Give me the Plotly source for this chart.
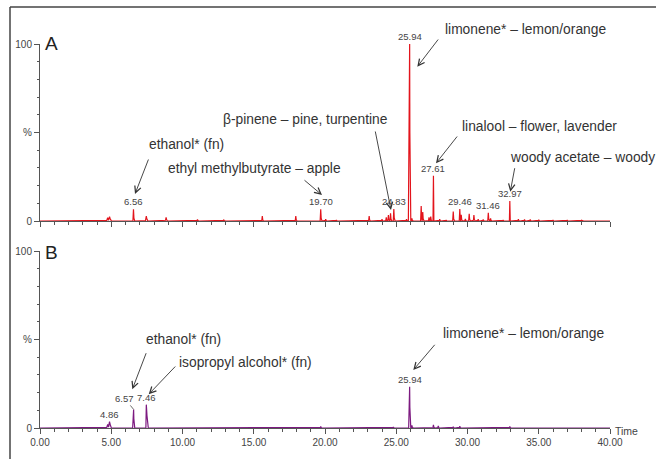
import numpy as np
import plotly.graph_objects as go

# ---------------- data ----------------
# Panel A: retention time (min), relative intensity (%), half-width (min)
a_times = [4.75, 4.88, 6.56, 7.46, 8.85, 11.05, 12.9, 15.6, 17.95, 19.70, 20.05, 20.8,
           23.1, 24.0, 24.3, 24.45, 24.6, 24.83, 25.72, 25.91, 25.94, 26.1, 26.75, 26.86,
           27.3, 27.42, 27.61, 28.05, 28.5, 29.0, 29.46, 29.56, 29.85, 30.12, 30.45, 30.75,
           31.1, 31.46, 31.62, 32.5, 32.97, 33.57, 34.0, 34.4, 35.0, 36.0, 37.0, 38.0, 39.0]
a_heights = [1.8, 2.5, 6.6, 2.8, 2.0, 0.8, 0.6, 2.8, 2.8, 6.6, 1.0, 0.6,
             2.8, 1.0, 2.0, 3.4, 4.3, 6.8, 1.0, 58.0, 100.0, 1.5, 8.5, 5.0,
             2.0, 2.5, 25.6, 1.0, 0.6, 5.3, 6.8, 3.5, 1.2, 4.1, 3.4, 1.0,
             0.8, 4.7, 1.5, 0.6, 11.3, 1.0, 0.8, 0.8, 0.7, 0.6, 0.6, 0.5, 0.4]
a_widths = [0.08, 0.08, 0.04, 0.06, 0.05, 0.05, 0.05, 0.04, 0.04, 0.04, 0.04, 0.04,
            0.04, 0.04, 0.04, 0.04, 0.04, 0.04, 0.04, 0.06, 0.03, 0.04, 0.04, 0.04,
            0.04, 0.04, 0.03, 0.04, 0.04, 0.04, 0.04, 0.04, 0.04, 0.04, 0.04, 0.04,
            0.04, 0.04, 0.04, 0.04, 0.03, 0.04, 0.04, 0.04, 0.04, 0.04, 0.04, 0.04, 0.04]

# Panel B
b_times = [4.75, 4.88, 6.55, 6.57, 7.46, 7.50, 19.7, 24.8, 25.92, 25.94, 26.1,
           27.61, 27.95, 29.0, 29.46, 32.97]
b_heights = [2.0, 3.6, 6.0, 10.5, 13.2, 8.0, 0.8, 0.6, 12.0, 23.3, 1.5,
             1.8, 1.2, 0.7, 1.0, 0.8]
b_widths = [0.08, 0.08, 0.05, 0.03, 0.03, 0.05, 0.04, 0.04, 0.05, 0.03, 0.04,
            0.04, 0.04, 0.04, 0.04, 0.04]

# labelled peaks
a_label_times = [6.56, 19.70, 24.83, 25.94, 27.61, 29.46, 31.46, 32.97]
a_label_heights = [6.6, 6.6, 6.8, 100.0, 25.6, 6.8, 4.7, 11.3]
b_label_times = [4.86, 7.46, 25.94]
b_label_heights = [3.6, 13.2, 23.3]
b_offset_label_time = 6.57
b_offset_label_height = 10.5

y_tickvals = [0, 50, 100]
y_ticktext = ["0", "%", "100"]
x_range = [0, 40]

RED = "#e3141c"
PURPLE = "#7d1a80"
TXT = "#333333"
AX = "#555555"
FONT = "Liberation Sans, Arial, sans-serif"

W, H = 656, 459


def trace_from_peaks(times, heights, widths):
    t = np.round(np.arange(0, 40.0001, 0.005), 3)
    y = np.zeros_like(t)
    for tc, h, w in zip(times, heights, widths):
        prof = h * np.clip(1 - np.abs(t - tc) / w, 0, None)
        y = np.maximum(y, prof)
    return t, y


ta, ya = trace_from_peaks(a_times, a_heights, a_widths)
tb, yb = trace_from_peaks(b_times, b_heights, b_widths)

fig = go.Figure()
fig.add_trace(go.Scatter(x=ta, y=ya, mode="lines", line=dict(color=RED, width=1.2),
                         xaxis="x", yaxis="y", cliponaxis=False, hoverinfo="skip"))
fig.add_trace(go.Scatter(x=tb, y=yb, mode="lines", line=dict(color=PURPLE, width=1.2),
                         xaxis="x2", yaxis="y2", cliponaxis=False, hoverinfo="skip"))


def px(x):
    return x / W


def py(y):
    return 1 - y / H


xdom = [px(40), px(610)]
axis_common = dict(showgrid=False, zeroline=False, showline=True, linecolor=AX, linewidth=1,
                   ticks="outside", tickcolor=AX, tickwidth=1, automargin=False,
                   tickfont=dict(family=FONT, size=10, color="#444"))

fig.update_layout(
    template="none",
    width=W, height=H, margin=dict(l=0, r=0, t=0, b=0, pad=0), autosize=False,
    paper_bgcolor="white", plot_bgcolor="white", showlegend=False,
    font=dict(family=FONT, color=TXT),
    xaxis=dict(domain=xdom, anchor="y", range=x_range, dtick=5, ticklen=5,
               showticklabels=False,
               minor=dict(dtick=1, ticklen=2.5, ticks="outside", tickcolor=AX), **axis_common),
    yaxis=dict(domain=[py(221), py(44)], anchor="x", range=[0, 100], tickvals=y_tickvals,
               ticktext=y_ticktext, ticklen=5,
               minor=dict(dtick=10, ticklen=2.5, ticks="outside", tickcolor=AX), **axis_common),
    xaxis2=dict(domain=xdom, anchor="y2", range=x_range, dtick=5, ticklen=5, tickformat=".2f",
                minor=dict(dtick=1, ticklen=2.5, ticks="outside", tickcolor=AX), **axis_common),
    yaxis2=dict(domain=[py(428), py(251)], anchor="x2", range=[0, 100], tickvals=y_tickvals,
                ticktext=y_ticktext, ticklen=5,
                minor=dict(dtick=10, ticklen=2.5, ticks="outside", tickcolor=AX), **axis_common),
)

# frame
fig.add_shape(type="line", xref="paper", yref="paper", x0=px(10), x1=px(10), y0=py(7), y1=0,
              line=dict(color="#444", width=1.5))
fig.add_shape(type="line", xref="paper", yref="paper", x0=px(10), x1=1, y0=py(7), y1=py(7),
              line=dict(color="#444", width=1.5))

ann = []
# panel letters
ann.append(dict(text="A", x=px(43), y=py(44), xref="paper", yref="paper", xanchor="left",
                yanchor="middle", showarrow=False, font=dict(size=19, color="#222", family=FONT)))
ann.append(dict(text="B", x=px(43), y=py(253), xref="paper", yref="paper", xanchor="left",
                yanchor="middle", showarrow=False, font=dict(size=19, color="#222", family=FONT)))
ann.append(dict(text="Time", x=px(613), y=py(431), xref="paper", yref="paper", xanchor="left",
                yanchor="middle", showarrow=False, font=dict(size=10.5, color="#444", family=FONT)))

# peak labels
for t, h in zip(a_label_times, a_label_heights):
    ann.append(dict(text=f"{t:.2f}", x=t, y=h, xref="x", yref="y", xanchor="center",
                    yanchor="bottom", showarrow=False, yshift=0,
                    font=dict(size=9.5, color="#444", family=FONT)))
for t, h in zip(b_label_times, b_label_heights):
    ann.append(dict(text=f"{t:.2f}", x=t, y=h, xref="x2", yref="y2", xanchor="center",
                    yanchor="bottom", showarrow=False, yshift=0,
                    font=dict(size=9.5, color="#444", family=FONT)))
ann.append(dict(text=f"{b_offset_label_time:.2f}", x=b_offset_label_time, y=b_offset_label_height,
                xref="x2", yref="y2", showarrow=True, arrowhead=0, arrowwidth=0.8,
                arrowcolor="#444", ax=-9, ay=-11, font=dict(size=9.5, color="#444", family=FONT)))

# compound labels (left x, center y in pixels)
labels = [
    ("ethanol* (fn)", 146.5, 144),
    ("ethyl methylbutyrate – apple", 166.5, 169),
    ("β-pinene – pine, turpentine", 221, 119),
    ("limonene* – lemon/orange", 443, 29.5),
    ("linalool – flower, lavender", 460, 126.5),
    ("woody acetate – woody", 508, 157.5),
    ("ethanol* (fn)", 144, 339.5),
    ("isopropyl alcohol* (fn)", 177, 362.5),
    ("limonene* – lemon/orange", 440.5, 333.5),
]
for txt, lx, ly in labels:
    ann.append(dict(text=txt, x=px(lx), y=py(ly), xref="paper", yref="paper", xanchor="left",
                    yanchor="middle", showarrow=False,
                    font=dict(size=13.8, color=TXT, family=FONT)))

# arrows (tail -> tip in pixels)
arrows = [
    ((149, 158), (135, 194)),
    ((303, 179), (322, 195)),
    ((375, 130), (391, 210)),
    ((439.3, 38), (417.3, 66.7)),
    ((458.3, 135), (436, 163.3)),
    ((515, 166.7), (510.3, 191.7)),
    ((146.7, 351.7), (132.3, 389.3)),
    ((176.7, 365), (148.7, 394.3)),
    ((436, 343.3), (413.3, 370)),
]
for (tx, ty), (hx, hy) in arrows:
    ann.append(dict(text="", x=px(hx), y=py(hy), xref="paper", yref="paper",
                    showarrow=True, ax=tx - hx, ay=ty - hy, axref="pixel", ayref="pixel",
                    arrowhead=5, arrowsize=1.4, arrowwidth=0.9, arrowcolor="#333", standoff=0))

fig.update_layout(annotations=ann)
fig.write_html("out.html", config={"displayModeBar": False},
               post_script="document.body.style.margin='0';document.body.style.overflow='hidden';")
